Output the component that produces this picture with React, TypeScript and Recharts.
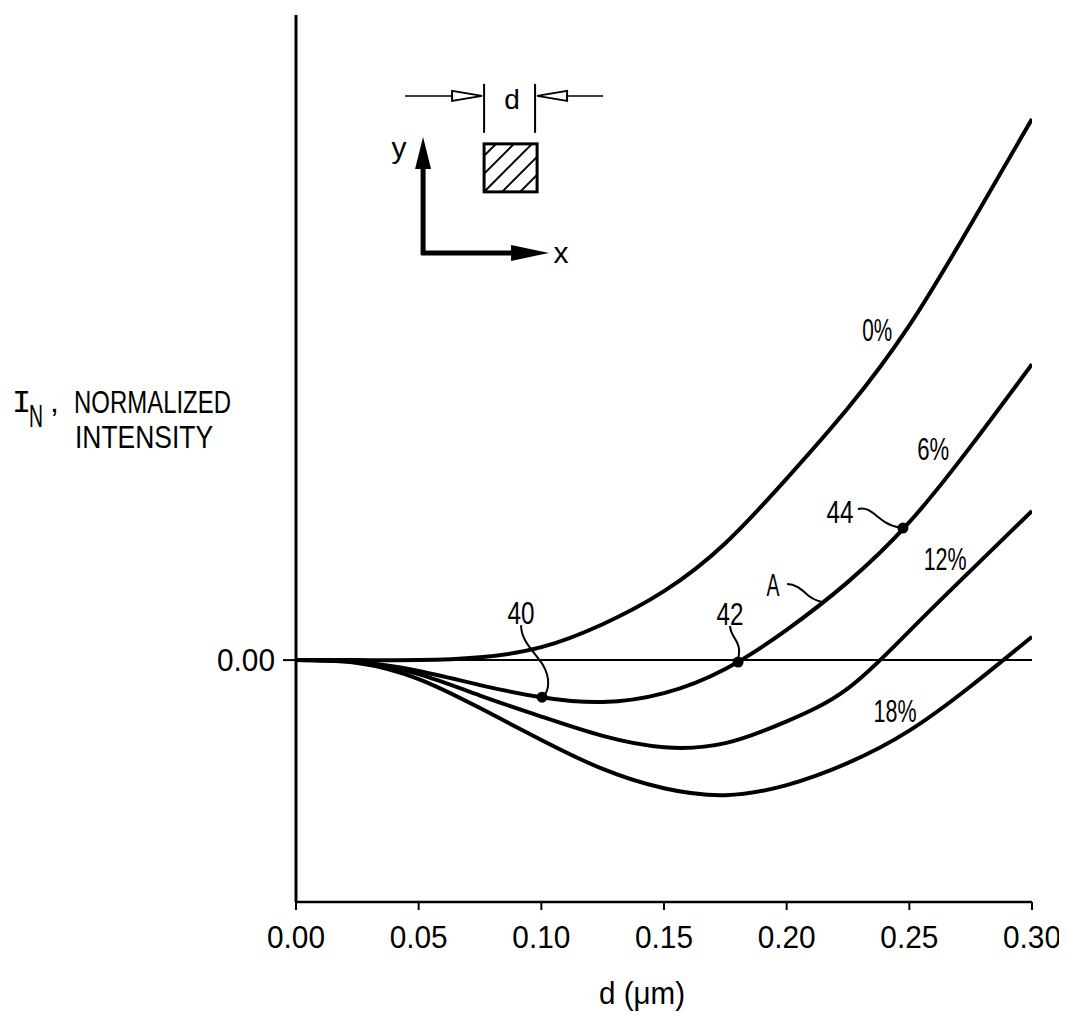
import { LineChart, Line, XAxis, YAxis, ReferenceLine, ReferenceDot } from 'recharts'

// d in micrometres, normalized intensity for each phase-shift transmission
const dUm = [0, 0.025, 0.05, 0.075, 0.1, 0.125, 0.15, 0.175, 0.2, 0.225, 0.25, 0.275, 0.3]
const pct0 = [0, 0, 0, 0.007, 0.032, 0.089, 0.171, 0.29, 0.45, 0.625, 0.83, 1.08, 1.342]
const pct6 = [0, -0.005, -0.027, -0.062, -0.092, -0.104, -0.082, -0.022, 0.075, 0.194, 0.342, 0.53, 0.734]
const pct12 = [0, -0.005, -0.035, -0.088, -0.14, -0.188, -0.216, -0.206, -0.152, -0.07, 0.072, 0.222, 0.37]
const pct18 = [0, -0.007, -0.047, -0.119, -0.198, -0.27, -0.318, -0.335, -0.31, -0.255, -0.175, -0.065, 0.058]

const xTicks = [0, 0.05, 0.1, 0.15, 0.2, 0.25, 0.3]
const yTicks = [0]

const curveNames = ['0%', '6%', '12%', '18%']
const curveLabelD = [0.2369, 0.2597, 0.2646, 0.2442]
const curveLabelV = [0.819, 0.524, 0.251, -0.127]

const calloutNames = ['40', '42', '44', 'A']
const calloutD = [0.1003, 0.1802, 0.2474, 0.2144]
const calloutV = [-0.092, -0.005, 0.3275, 0.144]

const data = dUm.map((d, i) => ({ d, p0: pct0[i], p6: pct6[i], p12: pct12[i], p18: pct18[i] }))

const FONT = '"Liberation Sans", Arial, sans-serif'
const labelWidths: Record<string, number> = { '0%': 30, '6%': 32, '12%': 43, '18%': 43, '40': 27, '42': 27, '44': 27, A: 13 }

// where each callout text sits and how its leader runs, relative to the marked point
const calloutStyle: Record<string, { lx: number; ly: number; dot: boolean; path: string }> = {
  '40': { lx: -21, ly: -73, dot: true, path: 'M -21 -72 C -21 -56, -8 -46, 1 -32 C 8 -20, 8 -6, 0 0' },
  '42': { lx: -8, ly: -37, dot: true, path: 'M -8 -36 C -8 -26, 1 -22, 1 -12 C 1 -6, 0 -3, 0 0' },
  '44': { lx: -63, ly: -5, dot: true, path: 'M -45 -19 C -34 -22, -28 -12, -18 -6 C -10 -1, -5 -1, 0 0' },
  A: { lx: -49, ly: -6, dot: false, path: 'M -35 -18 C -26 -18, -20 -12, -13 -6 C -8 -2, -4 -1, 0 0' },
}

function XTick(props: any) {
  const { x, y, payload } = props
  return (
    <text x={x} y={y + 36} textAnchor="middle" fontSize={32} fontFamily={FONT} fill="#000"
      textLength={58} lengthAdjust="spacingAndGlyphs">
      {Number(payload.value).toFixed(2)}
    </text>
  )
}

function YTick(props: any) {
  const { x, y, payload } = props
  return (
    <text x={x - 6} y={y + 11} textAnchor="end" fontSize={32} fontFamily={FONT} fill="#000"
      textLength={58} lengthAdjust="spacingAndGlyphs">
      {Number(payload.value).toFixed(2)}
    </text>
  )
}

function CurveLabel({ cx, cy, text }: any) {
  return (
    <text x={cx} y={cy + 11} textAnchor="middle" fontSize={32} fontFamily={FONT} fill="#000"
      textLength={labelWidths[text]} lengthAdjust="spacingAndGlyphs">
      {text}
    </text>
  )
}

function Callout({ cx, cy, text }: any) {
  const s = calloutStyle[text]
  return (
    <g transform={`translate(${cx},${cy})`}>
      <path d={s.path} fill="none" stroke="#000" strokeWidth={2} />
      {s.dot && <circle r={5.5} fill="#000" />}
      <text x={s.lx} y={s.ly} textAnchor="middle" fontSize={32} fontFamily={FONT} fill="#000"
        textLength={labelWidths[text]} lengthAdjust="spacingAndGlyphs">
        {text}
      </text>
    </g>
  )
}

// little sketch of the square feature and the x/y directions
function Inset({ cx, cy }: any) {
  const hatch = [-36, -18, 0, 18, 36, 54]
  return (
    <g transform={`translate(${cx},${cy})`}>
      <defs>
        <clipPath id="sq">
          <rect x={61} y={-109} width={53} height={48} />
        </clipPath>
      </defs>
      <line x1={0} y1={2} x2={0} y2={-88} stroke="#000" strokeWidth={5} />
      <polygon points="0,-116 -8,-84 8,-84" fill="#000" />
      <line x1={-2} y1={0} x2={92} y2={0} stroke="#000" strokeWidth={5} />
      <polygon points="126,0 88,-8 88,8" fill="#000" />
      <text x={-24} y={-95} textAnchor="middle" fontSize={30} fontFamily={FONT} fill="#000">y</text>
      <text x={138} y={10} textAnchor="middle" fontSize={30} fontFamily={FONT} fill="#000">x</text>
      <g clipPath="url(#sq)">
        {hatch.map((k) => (
          <line key={k} x1={61 + k} y1={-61} x2={61 + k + 48} y2={-109} stroke="#000" strokeWidth={2} />
        ))}
      </g>
      <rect x={61} y={-109} width={53} height={48} fill="none" stroke="#000" strokeWidth={3} />
      <line x1={61} y1={-169} x2={61} y2={-120} stroke="#000" strokeWidth={2} />
      <line x1={112} y1={-169} x2={112} y2={-120} stroke="#000" strokeWidth={2} />
      <line x1={-18} y1={-157} x2={30} y2={-157} stroke="#000" strokeWidth={1.5} />
      <polygon points="29,-162 29,-152 59,-157" fill="#fff" stroke="#000" strokeWidth={2} />
      <polygon points="144,-162 144,-152 114,-157" fill="#fff" stroke="#000" strokeWidth={2} />
      <line x1={143} y1={-157} x2={180} y2={-157} stroke="#000" strokeWidth={1.5} />
      <text x={89} y={-144} textAnchor="middle" fontSize={28} fontFamily={FONT} fill="#000">d</text>
    </g>
  )
}

export default function App() {
  return (
    <div style={{ position: 'relative', width: 1059, height: 1008 }}>
      <LineChart width={1059} height={1008} data={data} margin={{ top: 7, right: 35, left: 188, bottom: 0 }}>
        <XAxis type="number" dataKey="d" domain={[0, 0.3]} ticks={xTicks} allowDataOverflow
          height={114} tickSize={8} tick={(p: any) => <XTick {...p} />}
          axisLine={{ stroke: '#000', strokeWidth: 2.5 }} tickLine={{ stroke: '#000', strokeWidth: 2 }} />
        <YAxis type="number" domain={[-0.6, 1.6]} ticks={yTicks} allowDataOverflow width={100}
          tickSize={13} tick={(p: any) => <YTick {...p} />}
          axisLine={{ stroke: '#000', strokeWidth: 3 }} tickLine={{ stroke: '#000', strokeWidth: 2 }} />
        <ReferenceLine y={0} stroke="#000" strokeWidth={2} />
        <Line dataKey="p0" type="natural" stroke="#000" strokeWidth={4} dot={false} isAnimationActive={false} />
        <Line dataKey="p6" type="natural" stroke="#000" strokeWidth={4} dot={false} isAnimationActive={false} />
        <Line dataKey="p12" type="natural" stroke="#000" strokeWidth={4} dot={false} isAnimationActive={false} />
        <Line dataKey="p18" type="natural" stroke="#000" strokeWidth={4} dot={false} isAnimationActive={false} />
        {curveNames.map((t, i) => (
          <ReferenceDot key={t} x={curveLabelD[i]} y={curveLabelV[i]} r={0}
            shape={(p: any) => <CurveLabel cx={p.cx} cy={p.cy} text={t} />} />
        ))}
        {calloutNames.map((t, i) => (
          <ReferenceDot key={t} x={calloutD[i]} y={calloutV[i]} r={0}
            shape={(p: any) => <Callout cx={p.cx} cy={p.cy} text={t} />} />
        ))}
        <ReferenceDot x={0.0518} y={1.01} r={0} shape={(p: any) => <Inset cx={p.cx} cy={p.cy} />} />
      </LineChart>
      <svg width={1059} height={1008} style={{ position: 'absolute', left: 0, top: 0, pointerEvents: 'none' }}>
        <g fontSize={32} fill="#000">
          <text x={4} y={404} fontFamily='"Liberation Mono", monospace'>I</text>
          <g fontFamily={FONT}>
            <text x={21} y={419} textLength={14} lengthAdjust="spacingAndGlyphs">N</text>
            <text x={42} y={404}>,</text>
            <text x={66} y={405} textLength={157} lengthAdjust="spacingAndGlyphs">NORMALIZED</text>
            <text x={67} y={440} textLength={138} lengthAdjust="spacingAndGlyphs">INTENSITY</text>
            <text x={634} y={996} textAnchor="middle" textLength={86} lengthAdjust="spacingAndGlyphs">d (μm)</text>
          </g>
        </g>
      </svg>
    </div>
  )
}
